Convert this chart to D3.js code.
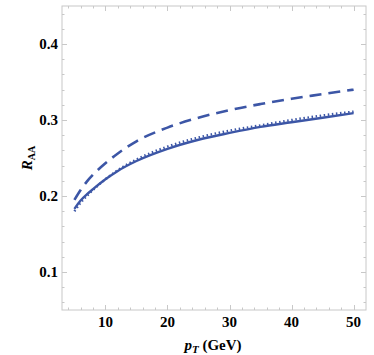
<!DOCTYPE html>
<html>
<head>
<meta charset="utf-8">
<script src="https://cdn.jsdelivr.net/npm/d3@7"></script>
<style>
  html, body { margin: 0; padding: 0; background: #fff; }
  text { font-family: "Liberation Serif", "Times New Roman", serif; }
</style>
</head>
<body>
<svg id="chart" width="374" height="355"></svg>
<script>
// pT values (GeV) and R_AA curves
var pt = [5, 6, 7, 8, 10, 12, 15, 20, 25, 30, 35, 40, 45, 50];
var solid = [0.183, 0.194, 0.202, 0.209, 0.222, 0.233, 0.246, 0.262, 0.274, 0.283, 0.291, 0.297, 0.303, 0.309];
var dashed = [0.195, 0.208, 0.219, 0.228, 0.243, 0.256, 0.272, 0.290, 0.303, 0.313, 0.321, 0.328, 0.334, 0.340];
var dotted = [0.180, 0.191, 0.200, 0.208, 0.222, 0.234, 0.248, 0.265, 0.277, 0.286, 0.293, 0.300, 0.306, 0.311];
var xTicks = [10, 20, 30, 40, 50];
var yTicks = [0.1, 0.2, 0.3, 0.4];

var svg = d3.select("#chart");
// plot frame edges (note: "top" is reserved on window)
var fLeft = 62, fRight = 366, fTop = 6, fBottom = 310;

var x = d3.scaleLinear().domain([3, 52]).range([fLeft, fRight]);
var y = d3.scaleLinear().domain([0.05, 0.45]).range([fBottom, fTop]);

var blue = "#3c56a6";
var frameCol = "#c8c8c8";

// frame
svg.append("rect")
    .attr("x", fLeft).attr("y", fTop)
    .attr("width", fRight - fLeft).attr("height", fBottom - fTop)
    .attr("fill", "none").attr("stroke", frameCol).attr("stroke-width", 1);

// minor ticks
var xMinor = d3.range(4, 52, 2);
var yMinor = d3.range(0.06, 0.451, 0.02);

function addTicks(vals, horiz, len) {
    vals.forEach(function(v) {
        if (horiz) {
            var px = Math.round(x(v)) + 0.5;
            svg.append("line").attr("x1", px).attr("x2", px).attr("y1", fBottom).attr("y2", fBottom - len)
                .attr("stroke", frameCol);
            svg.append("line").attr("x1", px).attr("x2", px).attr("y1", fTop).attr("y2", fTop + len)
                .attr("stroke", frameCol);
        } else {
            var py = Math.round(y(v)) + 0.5;
            svg.append("line").attr("y1", py).attr("y2", py).attr("x1", fLeft).attr("x2", fLeft + len)
                .attr("stroke", frameCol);
            svg.append("line").attr("y1", py).attr("y2", py).attr("x1", fRight).attr("x2", fRight - len)
                .attr("stroke", frameCol);
        }
    });
}
addTicks(xMinor, true, 2.5);
addTicks(xTicks, true, 5);
addTicks(yMinor, false, 2.5);
addTicks(yTicks, false, 5);

// tick labels
svg.append("g").selectAll("text")
    .data(xTicks)
    .enter().append("text")
    .attr("x", function(d) { return x(d); })
    .attr("y", 327)
    .attr("text-anchor", "middle")
    .style("font-size", "15px").style("font-weight", "bold")
    .text(function(d) { return d; });

svg.append("g").selectAll("text")
    .data(yTicks)
    .enter().append("text")
    .attr("x", 58)
    .attr("y", function(d) { return y(d) + 5; })
    .attr("text-anchor", "end")
    .style("font-size", "15px").style("font-weight", "bold")
    .text(function(d) { return d.toFixed(1); });

// axis titles
var xt = svg.append("text")
    .attr("x", 213).attr("y", 350)
    .attr("text-anchor", "middle")
    .style("font-size", "15px").style("font-weight", "bold");
xt.append("tspan").style("font-style", "italic").text("p");
xt.append("tspan").style("font-style", "italic").style("font-size", "11px").attr("dy", 3).text("T");
xt.append("tspan").attr("dy", -3).text(" (GeV)");

var yt = svg.append("text")
    .attr("transform", "translate(32,158) rotate(-90)")
    .attr("text-anchor", "middle")
    .style("font-size", "15px").style("font-weight", "bold");
yt.append("tspan").style("font-style", "italic").text("R");
yt.append("tspan").style("font-size", "10px").attr("dy", 3).text("AA");

// curves
function lineFor(vals) {
    return d3.line()
        .x(function(d, i) { return x(pt[i]); })
        .y(function(d) { return y(d); })
        .curve(d3.curveMonotoneX)(vals);
}

svg.append("path").attr("d", lineFor(dotted))
    .attr("fill", "none").attr("stroke", blue).attr("stroke-width", 2.4)
    .attr("stroke-dasharray", "1.5,2.6");

svg.append("path").attr("d", lineFor(solid))
    .attr("fill", "none").attr("stroke", blue).attr("stroke-width", 2.4);

svg.append("path").attr("d", lineFor(dashed))
    .attr("fill", "none").attr("stroke", blue).attr("stroke-width", 2.6)
    .attr("stroke-dasharray", "12,7");
</script>
</body>
</html>
